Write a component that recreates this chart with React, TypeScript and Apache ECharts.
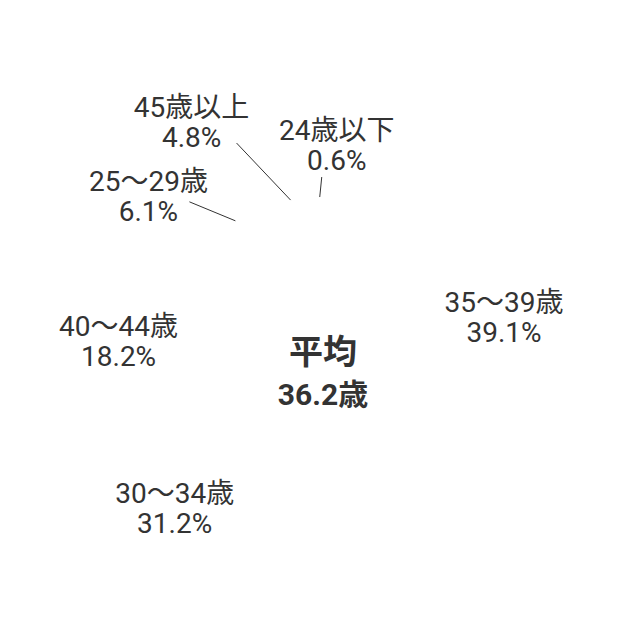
import React, { useEffect, useRef } from 'react';
import * as echarts from 'echarts';

// age breakdown, largest first (pie runs clockwise from 12 o'clock)
const ageGroups = ['35～39歳', '30～34歳', '40～44歳', '25～29歳', '45歳以上', '24歳以下'];
const shares = [39.1, 31.2, 18.2, 6.1, 4.8, 0.6];
const averageAge = 36.2;

// label centre relative to the slice's outer edge at its mid angle
const labelNudge = [[18, 6], [-98, -27], [-38, 19], [-87, -24], [-99, -78], [17, -52]];
// leader line end relative to the same edge point (null = no line)
const lineNudge: (number[] | null)[] = [null, null, null, [-46, -19], [-54, -57], [2, -20]];

const CX = 315;
const CY = 363;
const R = 173;
const FONT = "Roboto, 'Noto Sans CJK JP', sans-serif";
const INK = '#333';

const total = shares.reduce((a, b) => a + b, 0);

function edgePoint(i: number) {
  const before = shares.slice(0, i).reduce((a, b) => a + b, 0);
  const a = ((before + shares[i] / 2) / total) * Math.PI * 2;
  return [CX + R * Math.sin(a), CY - R * Math.cos(a)];
}

export default function App() {
  const chartRef = useRef<HTMLDivElement>(null);

  useEffect(() => {
    if (!chartRef.current) return;
    const chart = echarts.init(chartRef.current, undefined, { renderer: 'svg' });

    const option = {
      animation: false,
      series: [
        {
          type: 'pie',
          center: [CX, CY],
          radius: [110, R],
          startAngle: 90,
          clockwise: true,
          avoidLabelOverlap: false,
          silent: true,
          itemStyle: { color: 'rgba(0,0,0,0)', borderWidth: 0 },
          label: {
            show: true,
            position: 'outside',
            formatter: (p: any) => `${p.name}\n${p.value}%`,
            fontSize: 28,
            lineHeight: 30,
            color: INK,
            fontFamily: FONT,
            overflow: 'none'
          },
          labelLine: {
            show: true,
            length: 10,
            length2: 0,
            lineStyle: { color: INK, width: 1 }
          },
          labelLayout: (params: any) => {
            const i = params.dataIndex;
            const [ex, ey] = edgePoint(i);
            const [nx, ny] = labelNudge[i];
            const out: any = {
              x: ex + nx,
              y: ey + ny - 1,
              align: 'center',
              verticalAlign: 'middle'
            };
            const ln = lineNudge[i];
            if (ln) {
              out.labelLinePoints = [
                [ex, ey - 1],
                [ex + ln[0], ey + ln[1] - 1],
                [ex + ln[0], ey + ln[1] - 1]
              ];
            }
            return out;
          },
          data: shares.map((v, i) => ({
            value: v,
            name: ageGroups[i],
            labelLine: { show: lineNudge[i] != null }
          }))
        },
        {
          type: 'pie',
          center: [CX, CY + 2],
          radius: [0, 1],
          silent: true,
          itemStyle: { color: 'rgba(0,0,0,0)' },
          label: {
            show: true,
            position: 'center',
            formatter: `{head|平均}\n{age|${averageAge}歳}`,
            rich: {
              head: {
                fontSize: 34,
                fontWeight: 'bold',
                lineHeight: 42,
                color: INK,
                fontFamily: FONT
              },
              age: {
                fontSize: 30,
                fontWeight: 'bold',
                lineHeight: 42,
                color: INK,
                fontFamily: FONT
              }
            }
          },
          labelLine: { show: false },
          data: [{ value: 1, name: '平均' }]
        }
      ]
    };

    chart.setOption(option as any);

    return () => {
      chart.dispose();
    };
  }, []);

  return <div ref={chartRef} style={{ width: '614px', height: '608px' }} />;
}
